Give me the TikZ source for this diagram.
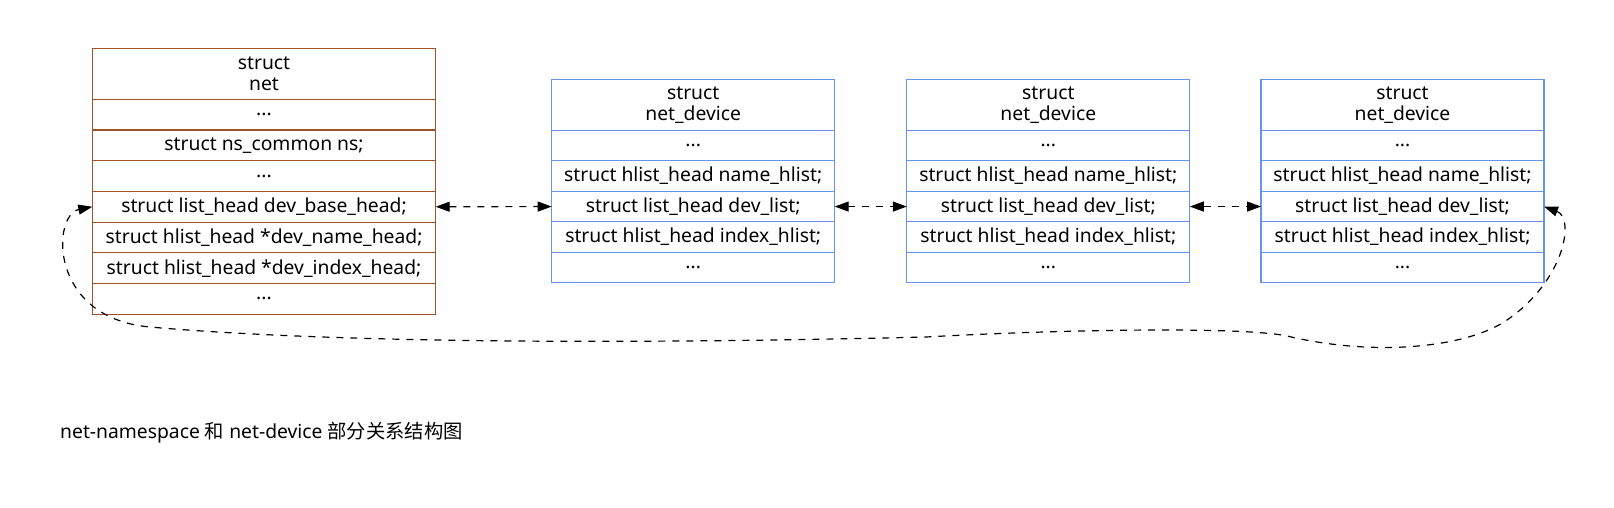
\documentclass[tikz,border=0pt]{standalone}
\usepackage{fontspec}
\setmainfont{Noto Sans}
\newfontfamily\cjk{Noto Sans CJK SC}
\usetikzlibrary{positioning,arrows.meta}

\definecolor{netbrown}{RGB}{160,82,45}
\definecolor{devblue}{RGB}{100,149,237}
\newcommand\cellfont{\fontsize{19.3pt}{21pt}\selectfont}

\tikzset{
    cell/.style={draw, line width=1.2pt, inner sep=0pt, outer sep=0pt, font=\cellfont},
    netcell/.style={cell, draw=netbrown, minimum width=343.4pt, minimum height=30.7pt},
    devcell/.style={cell, draw=devblue, minimum width=283pt, minimum height=30.5pt},
    headcell/.style={minimum height=51pt, align=center},
    link/.style={line width=1.2pt, dash pattern=on 7pt off 7pt,
        {Triangle[length=14pt,width=10pt]}-{Triangle[length=14pt,width=10pt]}}
}

\begin{document}
\begin{tikzpicture}[x=1pt,y=-1pt]
    \useasboundingbox (0,0) rectangle (1614,507);

    % struct net
    \node [netcell, headcell, anchor=north west] (nh) at (92.3,48.3) {struct\\net};
    \node [netcell, below=0pt of nh] (n1) {...};
    \node [netcell, below=0pt of n1] (n2) {struct ns\_common ns;};
    \node [netcell, below=0pt of n2] (n3) {...};
    \node [netcell, below=0pt of n3] (n4) {struct list\_head dev\_base\_head;};
    \node [netcell, below=0pt of n4] (n5) {struct hlist\_head *dev\_name\_head;};
    \node [netcell, below=0pt of n5] (n6) {struct hlist\_head *dev\_index\_head;};
    \node [netcell, below=0pt of n6] (n7) {...};

    % struct net_device (x3)
    \foreach \i/\x in {1/551.7, 2/906.8, 3/1261} {
        \node [devcell, headcell, anchor=north west] (d\i h) at (\x,79.3) {struct\\net\_device};
        \node [devcell, below=0pt of d\i h] (d\i a) {...};
        \node [devcell, below=0pt of d\i a] (d\i b) {struct hlist\_head name\_hlist;};
        \node [devcell, below=0pt of d\i b] (d\i c) {struct list\_head dev\_list;};
        \node [devcell, below=0pt of d\i c] (d\i d) {struct hlist\_head index\_hlist;};
        \node [devcell, below=0pt of d\i d] (d\i e) {...};
    }

    \draw [link] (n4.east) -- (d1c.west);
    \draw [link] (d1c.east) -- (d2c.west);
    \draw [link] (d2c.east) -- (d3c.west);

    % back to the list head
    \draw [link] (d3c.east) .. controls (1575,218) and (1565,280) .. (1507,320)
        .. controls (1470,346) and (1380,358) .. (1287,336)
        .. controls (1240,326) and (1050,330) .. (926,337)
        .. controls (600,345) and (320,342) .. (150,327)
        .. controls (48,318) and (52,215) .. (n4.west);

    \node [anchor=west, font=\cellfont, inner sep=0pt] (cap) at (60,433)
        {net-namespace {\cjk 和} net-device {\cjk 部分关系结构图}};
\end{tikzpicture}
\end{document}
